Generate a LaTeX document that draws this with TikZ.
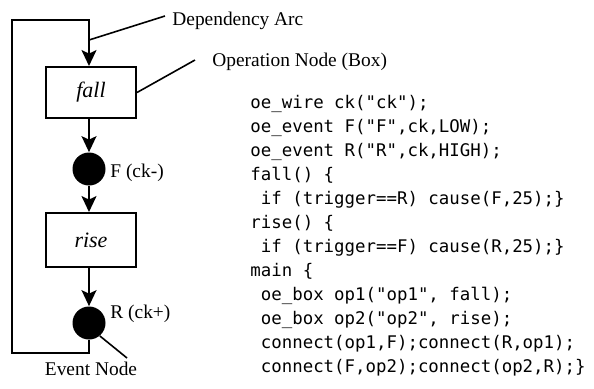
\documentclass[tikz,border=0pt]{standalone}
\usepackage{fontspec}
\setmainfont{Liberation Serif}
\newfontfamily\codefont{DejaVu Sans Mono}
\usetikzlibrary{arrows.meta}

\tikzset{
  opbox/.style={draw, line width=1pt, minimum width=45pt, inner sep=0pt, font=\fontsize{11}{13}\selectfont\itshape},
  evnode/.style={circle, fill=black, minimum size=16.5pt, inner sep=0pt},
  arc/.style={line width=1pt, -{Stealth[length=8pt,width=7.5pt,inset=1.8pt]}},
  lbl/.style={font=\fontsize{9.7}{11}\selectfont, inner sep=0pt},
  code/.style={font=\codefont\fontsize{8.7}{12}\selectfont, inner sep=0pt, anchor=base west}
}

\begin{document}
\begin{tikzpicture}[x=0.5pt,y=-0.5pt]
    \useasboundingbox (0,0) rectangle (594,388);
    % operation boxes and events
    \node[opbox, minimum height=25.5pt] (fall) at (91,92.5) {fall};
    \node[evnode] (F) at (89,169) {};
    \node[opbox, minimum height=27pt] (rise) at (91,240) {rise};
    \node[evnode] (R) at (89,323) {};
    \node[lbl, anchor=base west] (Flbl) at (110,177) {F (ck-)};
    \node[lbl, anchor=base west] (Rlbl) at (110,318) {R (ck+)};
    % dependency arcs
    \coordinate (lt) at (12,20);
    \coordinate (lb) at (12,353);
    \draw[arc] (fall.south -| F) -- (F);
    \draw[arc] (F) -- (rise.north -| F);
    \draw[arc] (rise.south -| F) -- (R);
    \draw[arc] (R.south) -- (R.south |- lb) -- (lb) -- (lt) -- (lt -| F) -- (fall.north -| F);
    % callouts
    \node[lbl, anchor=base west] (deplbl) at (172,25) {Dependency Arc};
    \node[lbl, anchor=base west] (oplbl) at (212,66) {Operation Node (Box)};
    \node[lbl, anchor=base] (evlbl) at (91,375) {Event Node};
    \coordinate (depend) at (89,40);
    \coordinate (depend2) at (165,16);
    \coordinate (opend) at (195,60);
    \coordinate (evend) at (127,358);
    \draw[line width=0.8pt] (depend) -- (depend2);
    \draw[line width=0.8pt] (fall.east) -- (opend);
    \draw[line width=0.8pt] (R.-50) -- (evend);
    % code listing
    \node[code] (c1) at (250,108) {oe\_wire ck("ck");};
    \node[code] (c2) at (250,132) {oe\_event F("F",ck,LOW);};
    \node[code] (c3) at (250,156) {oe\_event R("R",ck,HIGH);};
    \node[code] (c4) at (250,180) {fall() \{};
    \node[code] (c5) at (250,204) {\ if (trigger==R) cause(F,25);\}};
    \node[code] (c6) at (250,228) {rise() \{};
    \node[code] (c7) at (250,252) {\ if (trigger==F) cause(R,25);\}};
    \node[code] (c8) at (250,276) {main \{};
    \node[code] (c9) at (250,300) {\ oe\_box op1("op1", fall);};
    \node[code] (c10) at (250,324) {\ oe\_box op2("op2", rise);};
    \node[code] (c11) at (250,348) {\ connect(op1,F);connect(R,op1);};
    \node[code] (c12) at (250,372) {\ connect(F,op2);connect(op2,R);\}};
\end{tikzpicture}
\end{document}
